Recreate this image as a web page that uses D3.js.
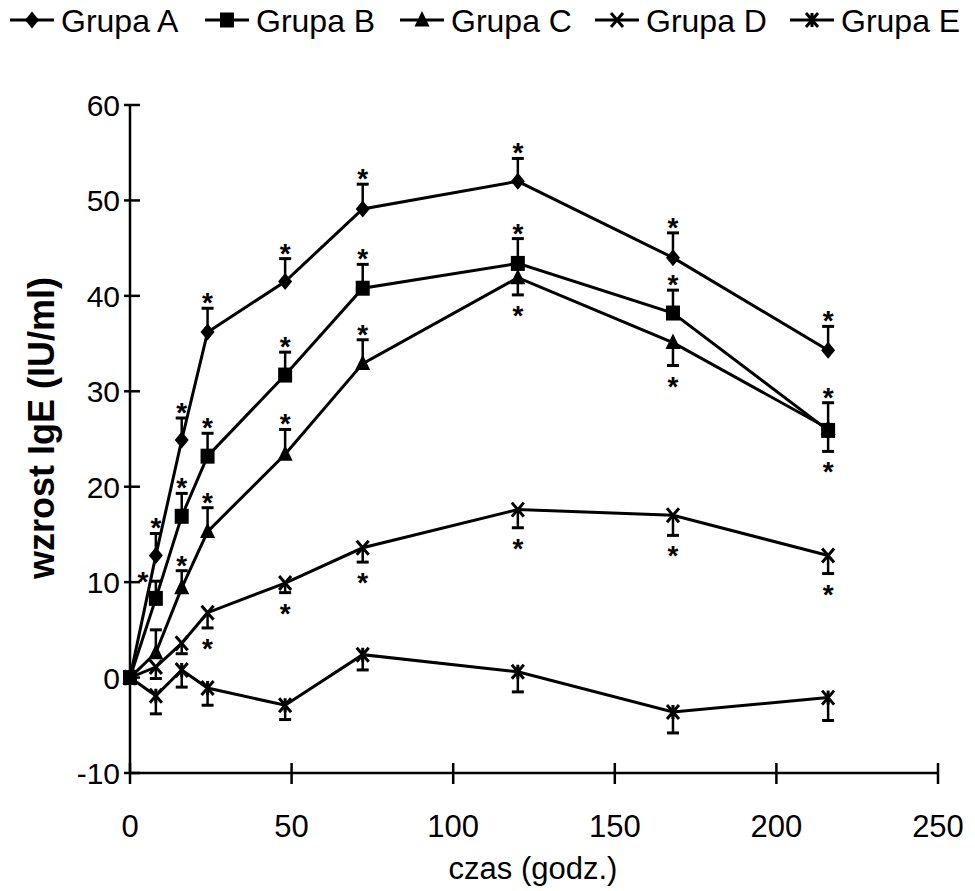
<!DOCTYPE html>
<html>
<head>
<meta charset="utf-8">
<script src="https://cdn.jsdelivr.net/npm/d3@7/dist/d3.min.js"></script>
<style>
  body { margin: 0; background: #fff; }
  svg text { font-family: "Liberation Sans", Arial, sans-serif; fill: #000; }
</style>
</head>
<body>
<svg id="chart" width="975" height="891"></svg>
<script>
// time points (hours)
const hours = [0, 8, 16, 24, 48, 72, 120, 168, 216];
const groupNames = ["Grupa A", "Grupa B", "Grupa C", "Grupa D", "Grupa E"];
const xTicks = [0, 50, 100, 150, 200, 250];
const yTicks = [-10, 0, 10, 20, 30, 40, 50, 60];

// mean increase of IgE per group
const valuesA = [0, 12.8, 24.9, 36.2, 41.5, 49.1, 52.0, 44.0, 34.3];
const valuesB = [0, 8.3, 16.9, 23.2, 31.7, 40.8, 43.4, 38.2, 25.9];
const valuesC = [0, 2.6, 9.4, 15.3, 23.4, 32.9, 41.9, 35.1, 26.1];
const valuesD = [0, 1.1, 3.6, 6.8, 9.9, 13.6, 17.6, 17.0, 12.8];
const valuesE = [0, -1.9, 0.8, -1.1, -2.9, 2.4, 0.6, -3.6, -2.1];

// error bar length, signed: + drawn up, - drawn down
const errA = [0, 2.3, 2.3, 2.5, 2.4, 2.6, 2.4, 2.6, 2.5];
const errB = [0, 1.8, 2.4, 2.4, 2.4, 2.5, 2.6, 2.4, 2.9];
const errC = [0, 2.4, 1.8, 2.5, 2.6, 2.5, -1.8, -2.4, -2.4];
const errD = [0, -1.2, -1.1, -1.6, -1.0, -1.5, -1.9, -2.1, -1.9];
const errE = [0, -1.9, -1.8, -1.8, -1.5, -1.6, -2.1, -2.2, -2.4];

// significance marks: "up" / "down" beyond the error cap, "left" beside it, "" none
const sigA = ["", "up", "up", "up", "up", "up", "up", "up", "up"];
const sigB = ["", "left", "up", "up", "up", "up", "up", "up", "up"];
const sigC = ["", "", "up", "up", "up", "up", "down", "down", "down"];
const sigD = ["", "", "", "down", "down", "down", "down", "down", "down"];
const sigE = ["", "", "", "", "", "", "", "", ""];

const series = [
  { name: groupNames[0], values: valuesA, err: errA, sig: sigA, marker: "diamond" },
  { name: groupNames[1], values: valuesB, err: errB, sig: sigB, marker: "square" },
  { name: groupNames[2], values: valuesC, err: errC, sig: sigC, marker: "triangle" },
  { name: groupNames[3], values: valuesD, err: errD, sig: sigD, marker: "cross" },
  { name: groupNames[4], values: valuesE, err: errE, sig: sigE, marker: "star" }
];

const svg = d3.select("#chart");
const x = d3.scaleLinear().domain([0, 250]).range([130, 938]);
const y = d3.scaleLinear().domain([-10, 60]).range([773, 105]);

// marker drawing
function drawMarker(g, type, cx, cy) {
  if (type === "diamond") {
    g.append("path").attr("d", `M${cx},${cy - 8.5}L${cx + 7},${cy}L${cx},${cy + 8.5}L${cx - 7},${cy}Z`)
      .attr("fill", "#000");
  } else if (type === "square") {
    g.append("rect").attr("x", cx - 7).attr("y", cy - 7.5).attr("width", 14).attr("height", 15)
      .attr("fill", "#000");
  } else if (type === "triangle") {
    g.append("path").attr("d", `M${cx},${cy - 9}L${cx + 7.5},${cy + 6.5}L${cx - 7.5},${cy + 6.5}Z`)
      .attr("fill", "#000");
  } else if (type === "cross") {
    g.append("path").attr("d", `M${cx - 6},${cy - 7}L${cx + 6},${cy + 7}M${cx + 6},${cy - 7}L${cx - 6},${cy + 7}`)
      .attr("stroke", "#000").attr("stroke-width", 3).attr("fill", "none");
  } else if (type === "star") {
    g.append("path").attr("d", `M${cx - 6},${cy - 7}L${cx + 6},${cy + 7}M${cx + 6},${cy - 7}L${cx - 6},${cy + 7}M${cx},${cy - 7}L${cx},${cy + 7}`)
      .attr("stroke", "#000").attr("stroke-width", 3).attr("fill", "none");
  }
}

// axes
const axes = svg.append("g");
axes.append("line").attr("x1", x(0)).attr("x2", x(0)).attr("y1", y(60)).attr("y2", y(-10))
  .attr("stroke", "#000").attr("stroke-width", 2.5);
axes.append("line").attr("x1", x(0)).attr("x2", x(250)).attr("y1", y(-10)).attr("y2", y(-10))
  .attr("stroke", "#000").attr("stroke-width", 2.5);

axes.selectAll(".ytick").data(yTicks).enter().append("line")
  .attr("x1", x(0) - 6).attr("x2", x(0) + 10)
  .attr("y1", d => y(d)).attr("y2", d => y(d))
  .attr("stroke", "#000").attr("stroke-width", 2.5);
axes.selectAll(".ylab").data(yTicks).enter().append("text")
  .attr("x", 120).attr("y", d => y(d) + 11)
  .attr("text-anchor", "end").style("font-size", "30px")
  .text(d => d);

axes.selectAll(".xtick").data(xTicks).enter().append("line")
  .attr("x1", d => x(d)).attr("x2", d => x(d))
  .attr("y1", y(-10) - 10).attr("y2", y(-10) + 11)
  .attr("stroke", "#000").attr("stroke-width", 2.5);
axes.selectAll(".xlab").data(xTicks).enter().append("text")
  .attr("x", d => x(d)).attr("y", 837)
  .attr("text-anchor", "middle").style("font-size", "31px")
  .text(d => d);

svg.append("text").attr("x", 533).attr("y", 879).attr("text-anchor", "middle")
  .style("font-size", "31px").text("czas (godz.)");
svg.append("text").attr("transform", "translate(54,428) rotate(-90)")
  .attr("text-anchor", "middle").style("font-size", "36px").style("font-weight", "bold")
  .text("wzrost IgE (IU/ml)");

// series
const line = d3.line().x((d, i) => x(hours[i])).y(d => y(d));
series.forEach(s => {
  const g = svg.append("g");
  g.append("path").datum(s.values).attr("d", line)
    .attr("fill", "none").attr("stroke", "#000").attr("stroke-width", 3);

  s.values.forEach((v, i) => {
    const cx = x(hours[i]);
    const e = s.err[i];
    if (e !== 0) {
      const cap = y(v + e);
      g.append("line").attr("x1", cx).attr("x2", cx).attr("y1", y(v)).attr("y2", cap)
        .attr("stroke", "#000").attr("stroke-width", 2.5);
      g.append("line").attr("x1", cx - 6).attr("x2", cx + 6).attr("y1", cap).attr("y2", cap)
        .attr("stroke", "#000").attr("stroke-width", 3);
    }
  });
  s.values.forEach((v, i) => drawMarker(g, s.marker, x(hours[i]), y(v)));

  // asterisks
  s.sig.forEach((pos, i) => {
    if (!pos) return;
    const cx = x(hours[i]);
    const cap = y(s.values[i] + s.err[i]);
    let sx = cx, sy;
    if (pos === "up") sy = cap - 12;
    else if (pos === "down") sy = cap + 14;
    else { sx = cx - 13; sy = cap - 6; }
    g.append("text").attr("x", sx).attr("y", sy + 16)
      .attr("text-anchor", "middle").style("font-size", "28px").style("font-weight", "bold")
      .text("*");
  });
});

// legend, one item every 195px
const legend = svg.append("g");
series.forEach((s, i) => {
  const lx = 10 + i * 195;
  const item = legend.append("g");
  item.append("line").attr("x1", lx).attr("x2", lx + 44).attr("y1", 20).attr("y2", 20)
    .attr("stroke", "#000").attr("stroke-width", 3);
  drawMarker(item, s.marker, lx + 22, 20);
  item.append("text").attr("x", lx + 51).attr("y", 32)
    .style("font-size", "32px").text(s.name);
});
</script>
</body>
</html>
